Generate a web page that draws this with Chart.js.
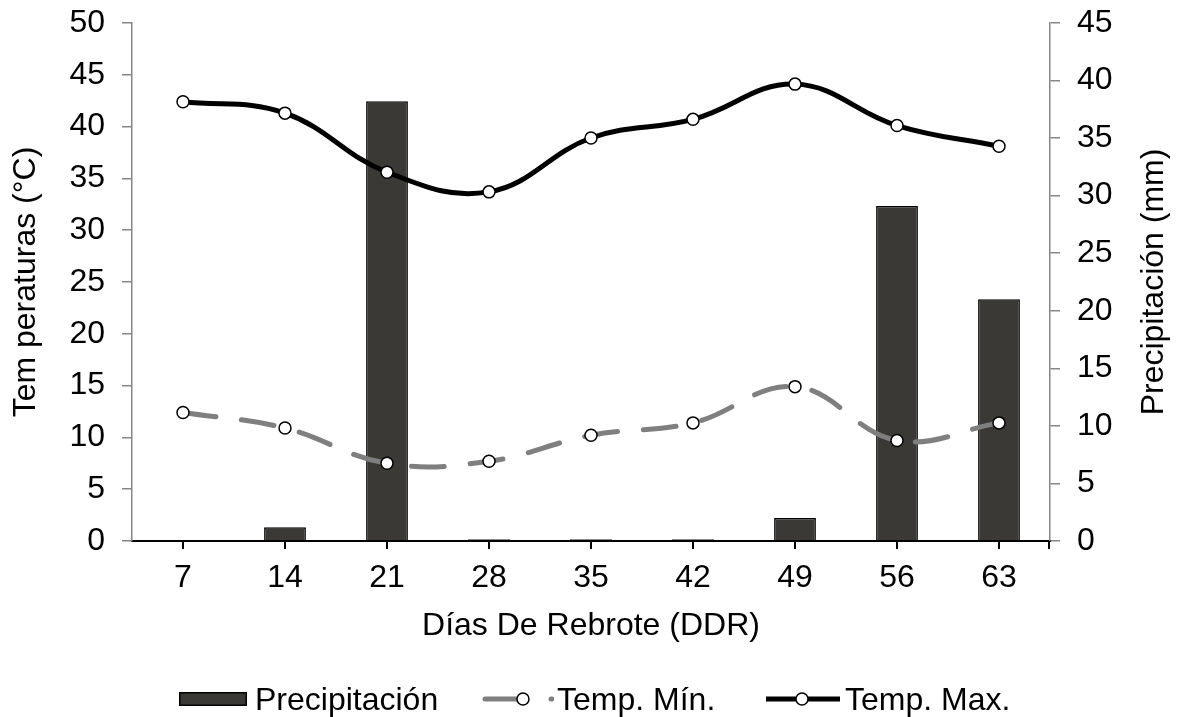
<!DOCTYPE html>
<html>
<head>
<meta charset="utf-8">
<script src="https://cdn.jsdelivr.net/npm/chart.js@4.4.1/dist/chart.umd.min.js"></script>
<style>
  html, body { margin: 0; padding: 0; background: #fff; }
  #wrap { position: relative; width: 1183px; height: 717px; }
  #legend {
    position: absolute; left: 0; top: 680px; width: 1183px; height: 38px;
    font-family: 'Liberation Sans', Arial, sans-serif; font-size: 32px; line-height: 38px; color: #000;
    white-space: nowrap;
  }
  #legend .item { position: absolute; top: 0; height: 38px; display: flex; align-items: center; }
  #legend svg { display: block; }
</style>
</head>
<body>
<div id="wrap">
  <canvas id="myChart" width="1183" height="717"></canvas>
  <div id="legend">
    <div class="item" style="left:179px">
      <svg width="68" height="16"><rect x="0.75" y="1.75" width="66.5" height="12.5" fill="#3a3936" stroke="#000" stroke-width="1.5"/></svg>
      <span style="margin-left:8px">Precipitación</span>
    </div>
    <div class="item" style="left:482px">
      <svg width="72" height="16"><line x1="3" y1="8" x2="36" y2="8" stroke="#7f7f7f" stroke-width="5" stroke-linecap="round"/><line x1="69" y1="8" x2="70" y2="8" stroke="#7f7f7f" stroke-width="5" stroke-linecap="round"/><circle cx="41" cy="8" r="6" fill="#fff" stroke="#000" stroke-width="1.5"/></svg>
      <span style="margin-left:3px">Temp. Mín.</span>
    </div>
    <div class="item" style="left:766px">
      <svg width="74" height="16"><line x1="0" y1="8" x2="74" y2="8" stroke="#000" stroke-width="5"/><circle cx="36" cy="8" r="6" fill="#fff" stroke="#000" stroke-width="1.5"/></svg>
      <span style="margin-left:5px">Temp. Max.</span>
    </div>
  </div>
</div>
<script>
// datos
const dias = ['7', '14', '21', '28', '35', '42', '49', '56', '63'];
const precipitacion = [0, 1.2, 38.2, 0.15, 0.15, 0.15, 2.0, 29.1, 21.0];
const tempMin = [12.4, 10.9, 7.5, 7.7, 10.2, 11.4, 14.9, 9.7, 11.4];
const tempMax = [42.4, 41.3, 35.6, 33.7, 38.9, 40.7, 44.1, 40.1, 38.1];

// ejes: min, max, paso
const ejeTemp = [0, 50, 5];
const ejePrecip = [0, 45, 5];

Chart.defaults.font.family = "'Liberation Sans', Arial, sans-serif";
Chart.defaults.font.size = 32;
Chart.defaults.color = '#000';

const axisGray = '#868686';

// titulo derecho (leido de abajo hacia arriba) y marca final del eje x
const extras = {
    id: 'extras',
    afterDraw(chart) {
        const ctx = chart.ctx;
        const area = chart.chartArea;
        ctx.save();
        ctx.strokeStyle = '#000';
        ctx.lineWidth = 2;
        ctx.beginPath();
        ctx.moveTo(area.right - 1, area.bottom);
        ctx.lineTo(area.right - 1, area.bottom + 8);
        ctx.stroke();

        ctx.translate(1154, (area.top + area.bottom) / 2);
        ctx.rotate(-Math.PI / 2);
        ctx.font = "32px 'Liberation Sans', Arial, sans-serif";
        ctx.fillStyle = '#000';
        ctx.textAlign = 'center';
        ctx.textBaseline = 'middle';
        ctx.fillText('Precipitación (mm)', 0, 0);
        ctx.restore();
    }
};

new Chart('myChart', {
    type: 'bar',
    data: {
        labels: dias,
        datasets: [
            {
                type: 'bar',
                label: 'Precipitación',
                data: precipitacion,
                yAxisID: 'y1',
                backgroundColor: '#3a3936',
                borderColor: '#000',
                borderWidth: 1.5,
                barPercentage: 0.41,
                categoryPercentage: 1,
                order: 3
            },
            {
                type: 'line',
                label: 'Temp. Mín.',
                data: tempMin,
                yAxisID: 'y',
                borderColor: '#7f7f7f',
                borderWidth: 5,
                borderDash: [33, 26],
                borderCapStyle: 'round',
                tension: 0.4,
                pointRadius: 6,
                pointBorderWidth: 1.5,
                pointBorderColor: '#000',
                pointBackgroundColor: '#fff',
                order: 2
            },
            {
                type: 'line',
                label: 'Temp. Max.',
                data: tempMax,
                yAxisID: 'y',
                borderColor: '#000',
                borderWidth: 5,
                tension: 0.4,
                pointRadius: 6,
                pointBorderWidth: 1.5,
                pointBorderColor: '#000',
                pointBackgroundColor: '#fff',
                order: 1
            }
        ]
    },
    options: {
        responsive: false,
        animation: false,
        layout: { padding: { top: 23, left: 0, right: 0, bottom: 0 } },
        plugins: {
            legend: { display: false },
            tooltip: { enabled: false }
        },
        scales: {
            x: {
                offset: true,
                grid: { offset: false, drawOnChartArea: false, tickLength: 8, color: '#000', lineWidth: 2 },
                border: { color: '#000', width: 2 },
                ticks: { padding: 10, maxRotation: 0, autoSkip: false },
                title: { display: true, text: 'Días De Rebrote (DDR)', padding: { top: 0, bottom: 72 } },
                afterFit(scale) { scale.height = 176; }
            },
            y: {
                position: 'left',
                min: ejeTemp[0],
                max: ejeTemp[1],
                ticks: { stepSize: ejeTemp[2], padding: 17 },
                grid: { drawOnChartArea: false, tickLength: 10, color: axisGray, lineWidth: 1.5 },
                border: { color: axisGray, width: 1.5 },
                title: { display: true, text: 'Tem peraturas (°C)', padding: { top: 7, bottom: 0 } },
                afterFit(scale) { scale.width = 132; scale.paddingTop = 0; scale.paddingBottom = 0; }
            },
            y1: {
                position: 'right',
                min: ejePrecip[0],
                max: ejePrecip[1],
                ticks: { stepSize: ejePrecip[2], padding: 17 },
                grid: { drawOnChartArea: false, tickLength: 10, color: axisGray, lineWidth: 1.5 },
                border: { color: axisGray, width: 1.5 },
                afterFit(scale) { scale.width = 133; scale.paddingTop = 0; scale.paddingBottom = 0; }
            }
        }
    },
    plugins: [extras]
});
</script>
</body>
</html>
